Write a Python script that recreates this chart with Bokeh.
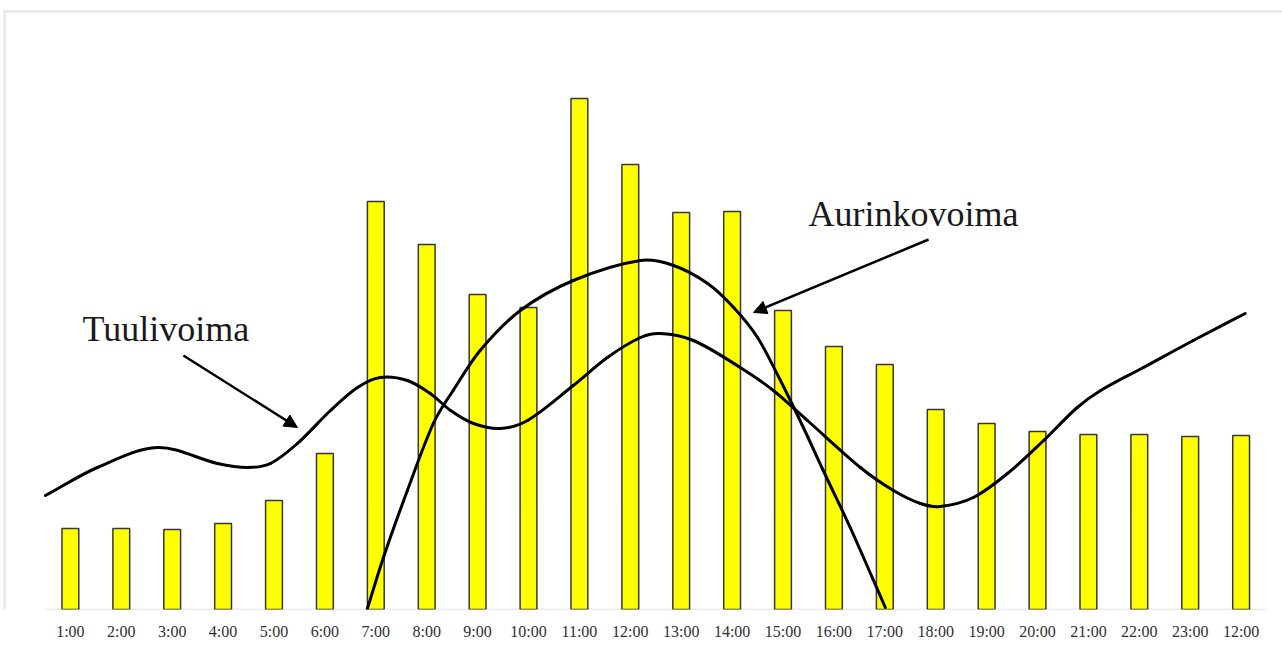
from bokeh.plotting import figure
from bokeh.models import (Range1d, FixedTicker, Label, Arrow, NormalHead,
                          BoxAnnotation, ColumnDataSource)
from bokeh.embed import file_html
from bokeh.resources import INLINE

# ---------------- data ----------------
hour_labels = ["1:00", "2:00", "3:00", "4:00", "5:00", "6:00", "7:00", "8:00",
               "9:00", "10:00", "11:00", "12:00", "13:00", "14:00", "15:00",
               "16:00", "17:00", "18:00", "19:00", "20:00", "21:00", "22:00",
               "23:00", "12:00"]
hour_pos = list(range(1, 25))
demand = [81, 81, 80, 86, 109, 156, 408, 365, 315, 302, 511, 445, 397, 398,
          299, 263, 245, 200, 186, 178, 175, 175, 173, 174]

wind_x = [0.51, 1.53, 2.71, 3.89, 4.48, 4.93, 5.46, 6.11, 6.64, 7.09, 7.62,
          8.07, 8.47, 8.92, 9.45, 9.98, 10.88, 11.55, 12.20, 12.59, 13.24,
          14.16, 14.81, 15.48, 16.52, 17.17, 17.70, 18.09, 18.74, 19.41,
          20.12, 20.78, 21.24, 22.08, 23.06, 24.08]
wind_y = [114, 142, 162, 146, 142, 146, 166, 199, 222, 232, 229,
          216, 199, 186, 181, 189, 224, 252, 272, 276, 269,
          242, 219, 189, 142, 119, 106, 103, 112, 136,
          169, 202, 219, 242, 269, 296]

solar_x = [6.83, 7.15, 7.62, 8.13, 8.52, 9.05, 9.84, 10.88, 12.20, 12.85,
           13.52, 14.03, 14.50, 14.95, 15.40, 15.79, 16.32, 17.01]
solar_y = [0, 52, 119, 186, 219, 259, 299, 329, 349, 344,
           326, 302, 272, 229, 182, 139, 82, 2]

wind_label = "Tuulivoima"
solar_label = "Aurinkovoima"


def smooth(xs, ys):
    """Cubic Hermite curve y(x) through the points, as bezier segments."""
    n = len(xs)
    m = []
    for i in range(n):
        a = max(i - 1, 0)
        b = min(i + 1, n - 1)
        m.append((ys[b] - ys[a]) / (xs[b] - xs[a]))
    out = dict(x0=[], y0=[], x1=[], y1=[], cx0=[], cy0=[], cx1=[], cy1=[])
    for i in range(n - 1):
        h = xs[i + 1] - xs[i]
        out["x0"].append(xs[i]); out["y0"].append(ys[i])
        out["x1"].append(xs[i + 1]); out["y1"].append(ys[i + 1])
        out["cx0"].append(xs[i] + h / 3.0)
        out["cy0"].append(ys[i] + m[i] * h / 3.0)
        out["cx1"].append(xs[i + 1] - h / 3.0)
        out["cy1"].append(ys[i + 1] - m[i + 1] * h / 3.0)
    return ColumnDataSource(out)


# ---------------- figure ----------------
W, H = 1282, 662
p = figure(width=W, height=H, output_backend="svg", toolbar_location=None,
           x_range=Range1d(-0.314, 24.813), y_range=Range1d(0, 599),
           min_border_left=3, min_border_right=0, min_border_top=10,
           min_border_bottom=53)
p.background_fill_color = "white"
p.border_fill_color = "white"
p.outline_line_color = None
p.xgrid.visible = False
p.ygrid.visible = False
p.yaxis.visible = False

xa = p.xaxis[0]
xa.ticker = FixedTicker(ticks=hour_pos)
xa.major_label_overrides = {h: lab for h, lab in zip(hour_pos, hour_labels)}
xa.axis_line_color = None
xa.major_tick_line_color = None
xa.minor_tick_line_color = None
xa.major_tick_out = 0
xa.major_label_standoff = 13
xa.major_label_text_font = "Liberation Serif"
xa.major_label_text_font_size = "16px"
xa.major_label_text_color = "#303030"

# thin frame of the picture (top and left)
p.add_layout(BoxAnnotation(left=2, right=W, top=9, bottom=12,
                           left_units="canvas", right_units="canvas",
                           top_units="canvas", bottom_units="canvas",
                           fill_color="#e4e4e4", fill_alpha=1, line_alpha=0))
p.add_layout(BoxAnnotation(left=2, right=5, top=9, bottom=H,
                           left_units="canvas", right_units="canvas",
                           top_units="canvas", bottom_units="canvas",
                           fill_color="#e4e4e4", fill_alpha=1, line_alpha=0))

# baseline
p.segment(x0=[0.49], y0=[0], x1=[24.51], y1=[0], line_color="#d9d9d9",
          line_width=1.5)

# bars
p.vbar(x=hour_pos, top=demand, bottom=0, width=0.33, fill_color="#FFFF00",
       line_color="#363636", line_width=1.5)

# curves
p.bezier(x0="x0", y0="y0", x1="x1", y1="y1", cx0="cx0", cy0="cy0",
         cx1="cx1", cy1="cy1", source=smooth(wind_x, wind_y),
         line_color="black", line_width=3, line_cap="round")
p.bezier(x0="x0", y0="y0", x1="x1", y1="y1", cx0="cx0", cy0="cy0",
         cx1="cx1", cy1="cy1", source=smooth(solar_x, solar_y),
         line_color="black", line_width=3, line_cap="round")

# annotations
p.add_layout(Label(x=1.24, y=281, text=wind_label,
                   text_font="Liberation Serif", text_font_size="36px",
                   text_color="#1a1a1a", text_baseline="alphabetic"))
p.add_layout(Label(x=15.50, y=396, text=solar_label,
                   text_font="Liberation Serif", text_font_size="36px",
                   text_color="#1a1a1a", text_baseline="alphabetic"))
p.add_layout(Arrow(x_start=3.22, y_start=254, x_end=5.46, y_end=182,
                   line_color="black", line_width=2.5,
                   end=NormalHead(size=13, fill_color="black",
                                  line_color="black", line_width=1)))
p.add_layout(Arrow(x_start=17.86, y_start=370, x_end=14.42, y_end=297,
                   line_color="black", line_width=2.5,
                   end=NormalHead(size=13, fill_color="black",
                                  line_color="black", line_width=1)))

open("out.html", "w").write(file_html(p, INLINE))
